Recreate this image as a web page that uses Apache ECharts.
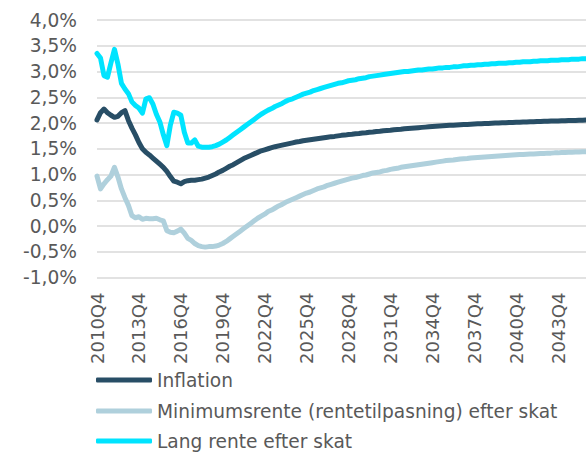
<!DOCTYPE html>
<html>
<head>
<meta charset="utf-8">
<script src="https://cdn.jsdelivr.net/npm/echarts@6/dist/echarts.min.js"></script>
<style>
  html, body { margin: 0; padding: 0; background: #ffffff; }
  #chart { width: 586px; height: 452px; }
</style>
</head>
<body>
<div id="chart"></div>
<script>
// Quarterly periods: 2010Q4 .. 2045Q4
const firstYear = 2010;
const firstQuarter = 4;
const periodCount = 141;
const quarters = [];
for (let k = 0; k < periodCount; k++) {
  const q = (firstQuarter - 1 + k) % 4 + 1;
  const y = firstYear + Math.floor((firstQuarter - 1 + k) / 4);
  quarters.push(y + 'Q' + q);
}

// Values in percent
const inflation = [
  2.06, 2.20, 2.27, 2.20, 2.15, 2.11, 2.13, 2.20, 2.24, 2.05,
  1.90, 1.77, 1.62, 1.50, 1.43, 1.38, 1.32, 1.26, 1.20, 1.14,
  1.06, 0.96, 0.87, 0.85, 0.82, 0.86, 0.88, 0.89, 0.89, 0.90,
  0.91, 0.93, 0.95, 0.98, 1.01, 1.05, 1.08, 1.12, 1.16, 1.19,
  1.23, 1.27, 1.31, 1.34, 1.37, 1.40, 1.43, 1.46, 1.48, 1.50,
  1.52, 1.54, 1.555, 1.57, 1.585, 1.60, 1.615, 1.63, 1.64, 1.655,
  1.665, 1.675, 1.685, 1.695, 1.705, 1.715, 1.725, 1.735, 1.74, 1.75,
  1.76, 1.765, 1.775, 1.78, 1.79, 1.795, 1.805, 1.81, 1.82, 1.825,
  1.835, 1.84, 1.85, 1.855, 1.86, 1.87, 1.875, 1.88, 1.89, 1.895,
  1.90, 1.905, 1.91, 1.915, 1.92, 1.925, 1.93, 1.935, 1.94, 1.945,
  1.95, 1.955, 1.955, 1.96, 1.965, 1.97, 1.97, 1.975, 1.98, 1.985,
  1.985, 1.99, 1.99, 1.995, 2.00, 2.00, 2.005, 2.005, 2.01, 2.01,
  2.015, 2.015, 2.02, 2.02, 2.025, 2.025, 2.03, 2.03, 2.035, 2.035,
  2.04, 2.04, 2.04, 2.045, 2.045, 2.05, 2.05, 2.05, 2.055, 2.055,
  2.06
];

const minimumsrente = [
  0.97, 0.72, 0.82, 0.90, 0.97, 1.14, 0.95, 0.72, 0.55, 0.40,
  0.20, 0.16, 0.18, 0.13, 0.15, 0.14, 0.14, 0.15, 0.12, 0.10,
  -0.09, -0.12, -0.13, -0.10, -0.06, -0.14, -0.24, -0.28, -0.34, -0.38,
  -0.40, -0.41, -0.40, -0.40, -0.39, -0.37, -0.34, -0.30, -0.25, -0.20,
  -0.15, -0.10, -0.05, 0.00, 0.05, 0.10, 0.15, 0.19, 0.23, 0.28,
  0.31, 0.35, 0.39, 0.42, 0.46, 0.49, 0.52, 0.55, 0.58, 0.61,
  0.64, 0.66, 0.69, 0.72, 0.74, 0.76, 0.79, 0.81, 0.83, 0.85,
  0.87, 0.89, 0.91, 0.93, 0.94, 0.96, 0.98, 0.99, 1.01, 1.03,
  1.04, 1.05, 1.07, 1.08, 1.10, 1.11, 1.12, 1.14, 1.15, 1.16,
  1.17, 1.18, 1.19, 1.20, 1.21, 1.22, 1.23, 1.24, 1.25, 1.26,
  1.27, 1.275, 1.28, 1.29, 1.30, 1.305, 1.31, 1.32, 1.325, 1.33,
  1.335, 1.34, 1.345, 1.35, 1.355, 1.36, 1.365, 1.37, 1.375, 1.38,
  1.385, 1.39, 1.39, 1.395, 1.40, 1.40, 1.405, 1.41, 1.41, 1.415,
  1.415, 1.42, 1.42, 1.425, 1.425, 1.43, 1.43, 1.435, 1.435, 1.44,
  1.44
];

const langRente = [
  3.35, 3.26, 2.92, 2.89, 3.17, 3.43, 3.14, 2.77, 2.66, 2.57,
  2.41, 2.34, 2.29, 2.19, 2.47, 2.49, 2.37, 2.17, 2.02, 1.77,
  1.56, 1.96, 2.21, 2.19, 2.15, 1.82, 1.61, 1.61, 1.67, 1.55,
  1.53, 1.53, 1.53, 1.54, 1.56, 1.59, 1.63, 1.67, 1.72, 1.77,
  1.82, 1.87, 1.92, 1.97, 2.02, 2.07, 2.12, 2.17, 2.21, 2.25,
  2.28, 2.32, 2.35, 2.38, 2.42, 2.45, 2.47, 2.50, 2.53, 2.56,
  2.58, 2.60, 2.63, 2.65, 2.67, 2.69, 2.71, 2.73, 2.75, 2.77,
  2.78, 2.80, 2.82, 2.83, 2.84, 2.86, 2.87, 2.88, 2.90, 2.91,
  2.92, 2.93, 2.94, 2.95, 2.96, 2.97, 2.98, 2.99, 3.00, 3.00,
  3.01, 3.02, 3.03, 3.03, 3.04, 3.05, 3.05, 3.06, 3.07, 3.07,
  3.08, 3.08, 3.09, 3.09, 3.10, 3.11, 3.11, 3.12, 3.12, 3.13,
  3.13, 3.14, 3.14, 3.15, 3.15, 3.16, 3.16, 3.16, 3.17, 3.17,
  3.18, 3.18, 3.19, 3.19, 3.19, 3.20, 3.20, 3.21, 3.21, 3.21,
  3.22, 3.22, 3.22, 3.23, 3.23, 3.23, 3.24, 3.24, 3.24, 3.25,
  3.25
];

const seriesNames = [
  'Inflation',
  'Minimumsrente (rentetilpasning) efter skat',
  'Lang rente efter skat'
];
const seriesColors = ['#284e66', '#afd0dc', '#00e4ff'];

const yMin = -1.0;
const yMax = 4.0;
const yStep = 0.5;

const textColor = '#595959';
const fontFamily = 'Verdana, "DejaVu Sans", sans-serif';

const chart = echarts.init(document.getElementById('chart'), null, { renderer: 'svg' });

const values = [inflation, minimumsrente, langRente];

// one legend row per series, stacked under the axis labels
const legendRowTops = [370, 401, 431];
const legends = seriesNames.map((name, s) => ({
  orient: 'vertical',
  left: 96,
  top: legendRowTops[s],
  padding: 0,
  itemWidth: 56,
  itemHeight: 5,
  icon: 'roundRect',
  textStyle: { color: textColor, fontSize: 18.6, fontFamily: fontFamily, lineHeight: 20 },
  data: [name]
}));

chart.setOption({
  animation: false,
  backgroundColor: '#ffffff',
  grid: { left: 97, right: 0, top: 20, bottom: 174.5, outerBoundsMode: 'none' },
  legend: legends,
  xAxis: {
    type: 'category',
    data: quarters,
    boundaryGap: false,
    axisLine: { show: false },
    axisTick: { show: false },
    splitLine: { show: false },
    axisLabel: {
      show: true,
      interval: 11,
      rotate: 90,
      margin: 15,
      color: textColor,
      fontSize: 18,
      fontFamily: fontFamily
    }
  },
  yAxis: {
    type: 'value',
    min: yMin,
    max: yMax,
    interval: yStep,
    axisLine: { show: false },
    axisTick: { show: false },
    splitLine: { lineStyle: { color: '#d9d9d9', width: 1.5 } },
    axisLabel: {
      margin: 20,
      color: textColor,
      fontSize: 18.6,
      fontFamily: fontFamily,
      formatter: v => v.toFixed(1).replace('.', ',') + '%'
    }
  },
  series: seriesNames.map((name, s) => ({
    name: name,
    type: 'line',
    data: values[s],
    showSymbol: false,
    symbol: 'none',
    smooth: false,
    clip: false,
    lineStyle: { width: 5, color: seriesColors[s], cap: 'round', join: 'round' },
    itemStyle: { color: seriesColors[s] },
    z: 2 + s
  }))
});
</script>
</body>
</html>
